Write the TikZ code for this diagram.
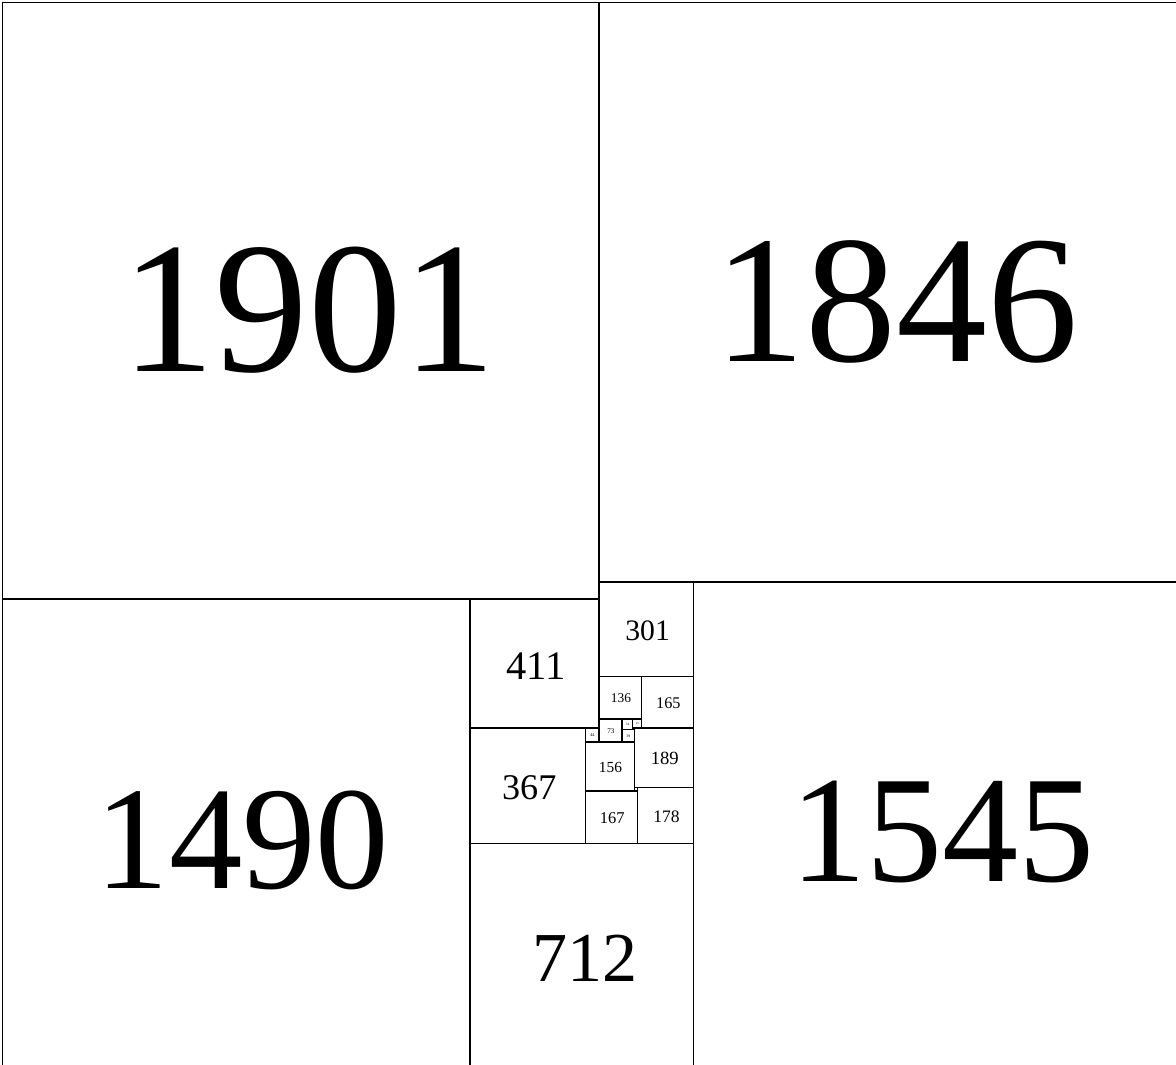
\documentclass[tikz,border=0pt]{standalone}
\usepackage{fontspec}
\setmainfont{Liberation Serif}
\usetikzlibrary{positioning}
\tikzset{
  sq/.style={draw, line width=0.6pt, inner sep=0pt, outer sep=0pt},
}

\begin{document}
\begin{tikzpicture}[x=0.005cm,y=0.005cm]

\useasboundingbox (-8,8) rectangle (3739,-3383);

% ============ squared rectangle 3747 x 3391: x/y (top-left, y down)/side ====
\foreach \x/\y/\s in {0/0/1901, 1901/0/1846, 0/1901/1490, 2202/1846/1545,
  1490/1901/411, 1901/1846/301, 1490/2679/712, 1490/2312/367,
  2037/2147/165, 1901/2147/136, 2024/2501/178, 1857/2512/167,
  2013/2312/189, 1857/2356/156, 1857/2312/44, 1901/2283/73,
  1974/2283/34, 2008/2283/29, 2008/2312/5, 1974/2317/39, 2013/2501/11}{
  \pgfmathsetmacro\fs{\s*0.0447}
  \draw[line width=0.6pt] (\x,-\y) rectangle ++(\s,-\s);
  \node[inner sep=0pt, font=\fontsize{\fs pt}{\fs pt}\selectfont]
    (q\s) at ({\x+\s*0.513},{-\y-\s*0.516}) {\ifnum\s>20 \s\fi};
}

\end{tikzpicture}
\end{document}
